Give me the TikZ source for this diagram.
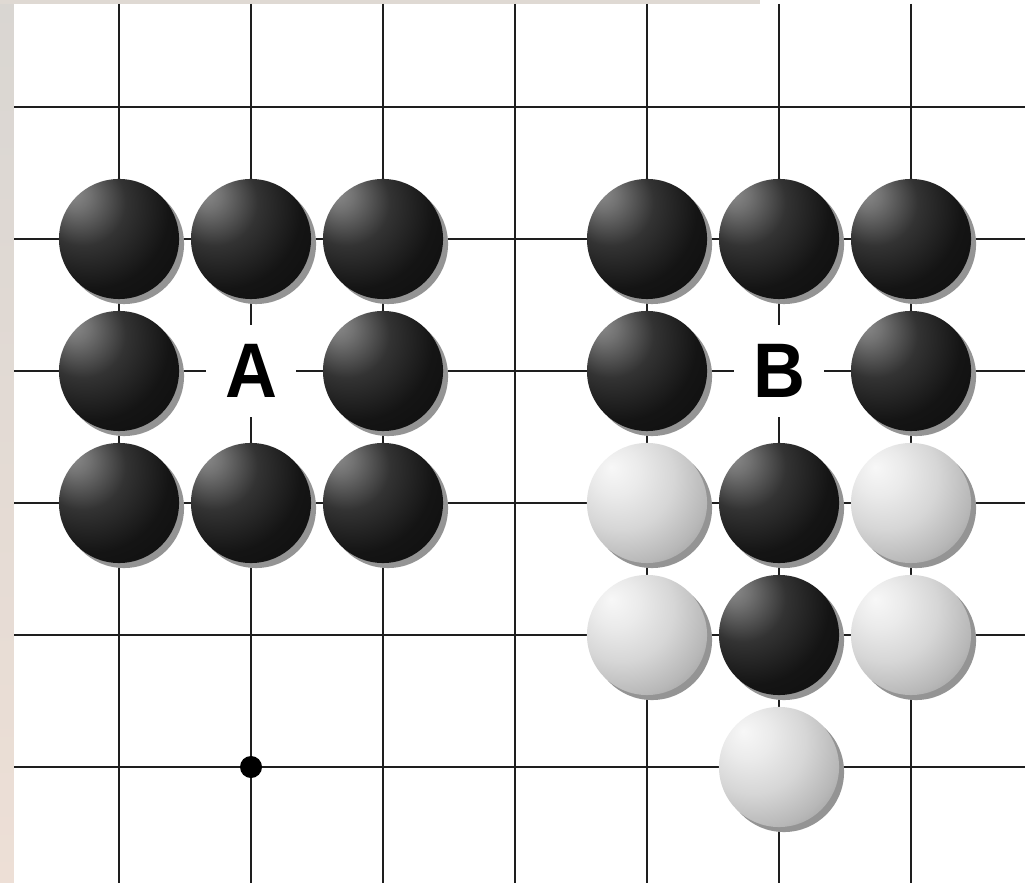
\documentclass[tikz,border=0pt]{standalone}
\usepackage{fontspec}
\usetikzlibrary{shadows}
\newfontfamily\lblfont{Liberation Sans}
\pgfdeclareradialshading{bstoneshade}{\pgfpoint{-20bp}{20bp}}{color(0bp)=(black!45); color(6bp)=(black!55); color(18bp)=(black!80); color(32bp)=(black!92); color(75bp)=(black)}
\pgfdeclareradialshading{wstoneshade}{\pgfpoint{-15bp}{15bp}}{color(0bp)=(black!3); color(10bp)=(black!8); color(22bp)=(black!16); color(34bp)=(black!28); color(46bp)=(black!45); color(58bp)=(black!55); color(80bp)=(black!60)}
\definecolor{gridline}{HTML}{1E1E1E}
\definecolor{bgtop}{HTML}{D9D6D2}
\definecolor{bgbot}{HTML}{EDDFD6}
\tikzset{
  gridl/.style={draw=gridline, line width=0.025cm},
  stonebase/.style={circle, minimum size=1.2cm, inner sep=0pt,
    drop shadow={shadow xshift=0.05cm, shadow yshift=-0.05cm, fill=black!42, opacity=1}},
  bstone/.style={stonebase, shading=bstoneshade},
  wstone/.style={stonebase, shading=wstoneshade},
  lbl/.style={fill=white, minimum width=0.9cm, minimum height=0.92cm, inner sep=0pt,
    font=\lblfont\bfseries\fontsize{22}{22}\selectfont},
  hoshi/.style={circle, fill=black, minimum size=0.22cm, inner sep=0pt}
}
\begin{document}
\begin{tikzpicture}[x=0.01cm, y=-0.01cm]
\useasboundingbox (0,0) rectangle (1025,883);
% background photo strips
\shade[top color=bgtop, bottom color=bgbot] (0,0) rectangle (14,883);
\fill[bgtop!70!bgbot] (0,0) rectangle (760,4);
\fill[white] (14,4) rectangle (1025,883);
% grid
\foreach \x in {119,251,383,515,647,779,911} \draw[gridl] (\x,4) -- (\x,883);
\foreach \y in {107,239,371,503,635,767} \draw[gridl] (14,\y) -- (1025,\y);
% hoshi
\node[hoshi] (hoshi) at (251,767) {};
% group A
\node[bstone] (a1) at (119,239) {};
\node[bstone] (a2) at (251,239) {};
\node[bstone] (a3) at (383,239) {};
\node[bstone] (a4) at (119,371) {};
\node[lbl] (la) at (251,371) {\scalebox{0.93}[1]{A}};
\node[bstone] (a5) at (383,371) {};
\node[bstone] (a6) at (119,503) {};
\node[bstone] (a7) at (251,503) {};
\node[bstone] (a8) at (383,503) {};
% group B
\node[bstone] (b1) at (647,239) {};
\node[bstone] (b2) at (779,239) {};
\node[bstone] (b3) at (911,239) {};
\node[bstone] (b4) at (647,371) {};
\node[lbl] (lb) at (779,371) {\scalebox{0.93}[1]{B}};
\node[bstone] (b5) at (911,371) {};
\node[wstone] (w1) at (647,503) {};
\node[bstone] (b6) at (779,503) {};
\node[wstone] (w2) at (911,503) {};
\node[wstone] (w3) at (647,635) {};
\node[bstone] (b7) at (779,635) {};
\node[wstone] (w4) at (911,635) {};
\node[wstone] (w5) at (779,767) {};
\end{tikzpicture}
\end{document}
